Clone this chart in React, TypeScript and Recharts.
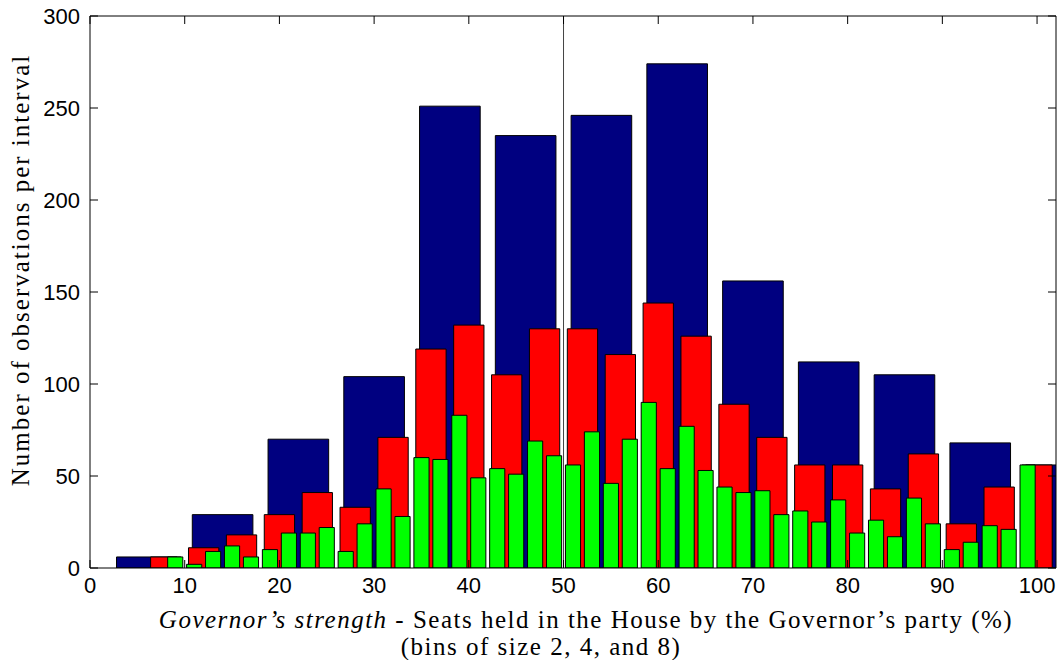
import { ComposedChart, XAxis, YAxis, ReferenceArea, ReferenceLine, Label } from 'recharts'

const X_TICKS = [0, 10, 20, 30, 40, 50, 60, 70, 80, 90, 100]
const Y_TICKS = [0, 50, 100, 150, 200, 250, 300]

// bins of size 8
const BLUE_X = [6, 14, 22, 30, 38, 46, 54, 62, 70, 78, 86, 94, 102]
const BLUE_N = [6, 29, 70, 104, 251, 235, 246, 274, 156, 112, 105, 68, 56]

// bins of size 4
const RED_X = [8, 12, 16, 20, 24, 28, 32, 36, 40, 44, 48, 52, 56, 60, 64, 68, 72, 76, 80, 84, 88, 92, 96, 100]
const RED_N = [6, 11, 18, 29, 41, 33, 71, 119, 132, 105, 130, 130, 116, 144, 126, 89, 71, 56, 56, 43, 62, 24, 44, 56]

// bins of size 2
const GREEN_X = [
  9, 11, 13, 15, 17, 19, 21, 23, 25, 27, 29, 31, 33, 35, 37, 39, 41, 43, 45, 47, 49, 51, 53,
  55, 57, 59, 61, 63, 65, 67, 69, 71, 73, 75, 77, 79, 81, 83, 85, 87, 89, 91, 93, 95, 97, 99,
]
const GREEN_N = [
  6, 2, 9, 12, 6, 10, 19, 19, 22, 9, 24, 43, 28, 60, 59, 83, 49, 54, 51, 69, 61, 56, 74,
  46, 70, 90, 54, 77, 53, 44, 41, 42, 29, 31, 25, 37, 19, 26, 17, 38, 24, 10, 14, 23, 21, 56,
]

const SERIES = [
  { name: 'bins8', xs: BLUE_X, counts: BLUE_N, width: 8, fill: '#000080' },
  { name: 'bins4', xs: RED_X, counts: RED_N, width: 4, fill: '#ff0000' },
  { name: 'bins2', xs: GREEN_X, counts: GREEN_N, width: 2, fill: '#00ff00' },
]

// one row per bin, all three resolutions, so the axes have data to work from
const TABLE = SERIES.flatMap((s) => s.xs.map((x, i) => ({ x, n: s.counts[i] })))

const SANS = '"Liberation Sans", Arial, sans-serif'
const SERIF = '"Liberation Serif", "Times New Roman", serif'
const TICK_LEN = 8

function BottomTick({ x, y, payload }: any) {
  return (
    <text x={x} y={y + 25} textAnchor="middle" fontFamily={SANS} fontSize={22} fill="#000">
      {payload.value}
    </text>
  )
}

function LeftTick({ x, y, payload }: any) {
  return (
    <text x={x} y={y + 8} textAnchor="end" fontFamily={SANS} fontSize={22} fill="#000">
      {payload.value}
    </text>
  )
}

function NoTick() {
  return <g />
}

function XTitle({ viewBox }: any) {
  const { x, y, width } = viewBox
  const mid = x + width / 2
  return (
    <g fontFamily={SERIF} fontSize={25} fill="#000" letterSpacing={1.5}>
      <text x={mid + 13} y={y + 60} textAnchor="middle">
        <tspan fontStyle="italic">Governor’s strength</tspan>
        <tspan> - Seats held in the House by the Governor’s party (%)</tspan>
      </text>
      <text x={mid - 32} y={y + 87} textAnchor="middle">
        (bins of size 2, 4, and 8)
      </text>
    </g>
  )
}

function YTitle({ viewBox }: any) {
  const { y, height } = viewBox
  const cy = y + height / 2 - 22
  return (
    <text
      x={29}
      y={cy}
      transform={`rotate(-90, 29, ${cy})`}
      textAnchor="middle"
      fontFamily={SERIF}
      fontSize={25}
      letterSpacing={2}
      fill="#000"
    >
      Number of observations per interval
    </text>
  )
}

export default function App() {
  return (
    <div style={{ position: 'absolute', left: 0, top: 0, width: 1060, height: 660, background: '#fff' }}>
      <ComposedChart data={TABLE} width={1060} height={660} margin={{ top: 8, right: 0, bottom: 0, left: 0 }}>
        <XAxis
          type="number"
          dataKey="x"
          domain={[0, 102]}
          ticks={X_TICKS}
          allowDataOverflow
          height={92}
          tickSize={-TICK_LEN}
          tickMargin={TICK_LEN}
          tickLine={{ stroke: '#000' }}
          tick={BottomTick}
          interval={0}
          axisLine={{ stroke: '#000' }}
        >
          <Label content={XTitle} />
        </XAxis>
        <XAxis
          xAxisId="top"
          orientation="top"
          type="number"
          dataKey="x"
          domain={[0, 102]}
          ticks={X_TICKS}
          allowDataOverflow
          height={8}
          tickSize={-TICK_LEN}
          tickLine={{ stroke: '#000' }}
          tick={NoTick}
          interval={0}
          axisLine={{ stroke: '#000' }}
        />
        <YAxis
          type="number"
          dataKey="n"
          domain={[0, 300]}
          ticks={Y_TICKS}
          allowDataOverflow
          width={90}
          tickSize={-TICK_LEN}
          tickMargin={TICK_LEN + 10}
          tickLine={{ stroke: '#000' }}
          tick={LeftTick}
          interval={0}
          axisLine={{ stroke: '#000' }}
        >
          <Label content={YTitle} />
        </YAxis>
        <YAxis
          yAxisId="right"
          orientation="right"
          type="number"
          dataKey="n"
          domain={[0, 300]}
          ticks={Y_TICKS}
          allowDataOverflow
          width={4}
          tickSize={-TICK_LEN}
          tickLine={{ stroke: '#000' }}
          tick={NoTick}
          interval={0}
          axisLine={{ stroke: '#000' }}
        />
        {SERIES.map((s) =>
          s.xs.map((c, i) => (
            <ReferenceArea
              key={`${s.name}-${c}`}
              x1={c - s.width * 0.4}
              x2={c + s.width * 0.4}
              y1={0}
              y2={s.counts[i]}
              fill={s.fill}
              fillOpacity={1}
              stroke="#000"
              strokeWidth={1}
              ifOverflow="hidden"
            />
          ))
        )}
        <ReferenceLine x={50} stroke="#444" strokeWidth={1} />
      </ComposedChart>
    </div>
  )
}
